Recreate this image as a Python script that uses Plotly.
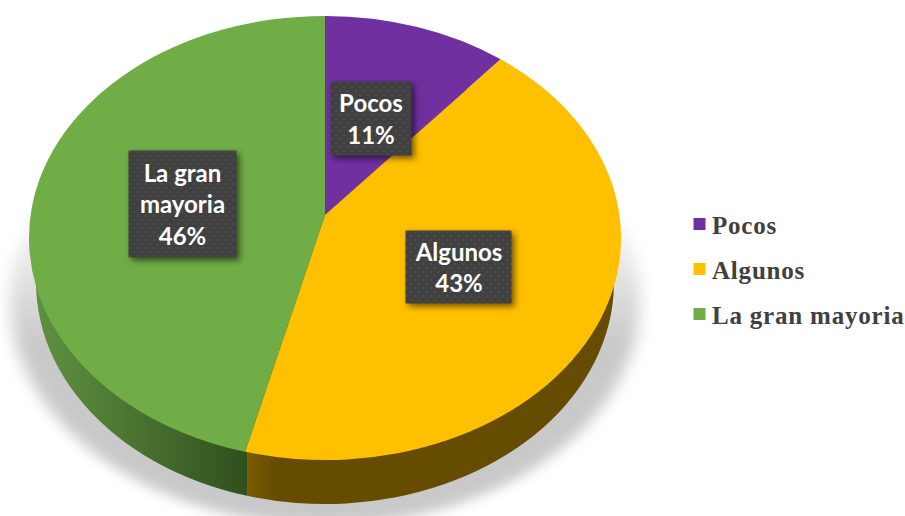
import plotly.graph_objects as go

categories = ["Pocos", "Algunos", "La gran mayoria"]
values = [11, 43, 46]
top_colors = ["#7030a0", "#ffc000", "#70ad47"]
side_colors = ["#3c1a56", "#664c00", "#3c5e26"]
box_labels = ["Pocos<br>11%", "Algunos<br>43%", "La gran<br>mayoria<br>46%"]
box_center_x = [371, 458, 182]
box_center_y = [118.5, 267, 204]
box_width = [80, 105, 107]
box_height = [73, 72, 106]

W, H = 905, 516


def domain(cx, cy, r):
    return dict(x=[(cx - r) / W, (cx + r) / W], y=[(H - cy - r) / H, (H - cy + r) / H])


fig = go.Figure()
fig.add_trace(go.Pie(values=[100], labels=["sombra"], sort=False, textinfo="none", hoverinfo="skip",
                     showlegend=False, marker=dict(colors=["#c9c9c9"], line=dict(width=0)),
                     domain=domain(325, 300, 200)))
fig.add_trace(go.Pie(values=values, labels=categories, sort=False, direction="clockwise", rotation=0,
                     textinfo="none", hoverinfo="skip", showlegend=False,
                     marker=dict(colors=side_colors, line=dict(width=0)),
                     domain=domain(325, 282, 222)))
fig.add_trace(go.Pie(values=values, labels=categories, sort=False, direction="clockwise", rotation=0,
                     textinfo="none", showlegend=True,
                     marker=dict(colors=top_colors, line=dict(width=0)),
                     domain=domain(325, 238, 222)))

for text, x, y, w, h in zip(box_labels, box_center_x, box_center_y, box_width, box_height):
    fig.add_annotation(text=text, xref="paper", yref="paper", x=x / W, y=1 - y / H,
                       xanchor="center", yanchor="middle", showarrow=False, width=w, height=h,
                       bgcolor="#404040", borderpad=0, align="center", valign="middle",
                       font=dict(family="Lato", size=24, color="#ffffff", weight="bold"))

fig.update_layout(
    width=W, height=H, margin=dict(l=0, r=0, t=0, b=0), paper_bgcolor="#ffffff",
    showlegend=True,
    legend=dict(x=672 / W, xanchor="left", y=1 - 205 / H, yanchor="top", bgcolor="rgba(0,0,0,0)",
                font=dict(family="Liberation Serif", size=25, color="#404040", weight="bold")),
)

post = """
document.body.style.margin = '0';
var gd = document.querySelector('.plotly-graph-div');
function fix() {
  var svg = gd.querySelector('.main-svg');
  var ns = 'http://www.w3.org/2000/svg';
  var defs = svg.querySelector('defs');
  if (!defs.querySelector('#gGreen')) {
    var mk = function(id, vertical, stops) {
      var g = document.createElementNS(ns, 'linearGradient');
      g.setAttribute('id', id);
      g.setAttribute('x1', 0); g.setAttribute('y1', 0);
      g.setAttribute('x2', vertical ? 0 : 1); g.setAttribute('y2', vertical ? 1 : 0);
      stops.forEach(function(s) {
        var st = document.createElementNS(ns, 'stop');
        st.setAttribute('offset', s[0]); st.setAttribute('stop-color', s[1]);
        g.appendChild(st);
      });
      defs.appendChild(g);
    };
    mk('gGreen', false, [[0, '#5f9140'], [0.35, '#4a7230'], [0.72, '#30501e'], [1, '#30501e']]);
    mk('gGold', false, [[0, '#7a5c00'], [0.08, '#664c00'], [1, '#664c00']]);
    mk('gShadow', true, [[0, '#ffffff'], [0.28, '#ffffff'], [0.6, '#c9c9c9'], [1, '#c9c9c9']]);
    var pat = document.createElementNS(ns, 'pattern');
    pat.setAttribute('id', 'dots');
    pat.setAttribute('width', 8); pat.setAttribute('height', 8);
    pat.setAttribute('patternUnits', 'userSpaceOnUse');
    pat.innerHTML = '<rect width="8" height="8" fill="#404040"></rect>' +
      '<circle cx="2" cy="2" r="1" fill="#505050"></circle>' +
      '<circle cx="6" cy="6" r="1" fill="#505050"></circle>';
    defs.appendChild(pat);
  }
  var traces = gd.querySelectorAll('.pielayer .trace');
  var cx = 325;
  var scale = [[315 / 200, 225 / 200, 300], [289 / 222, 1, 282], [296 / 222, 1, 238]];
  var RAD = Math.PI / 180;
  // perspective view of the tilted disc: rim angles shift slightly, apex sits above the rim centre
  var warp = function(a) { return a - 5 * Math.sin(a * RAD); };
  traces.forEach(function(t, i) {
    var s = scale[i];
    t.setAttribute('transform', 'translate(' + cx + ',' + s[2] + ') scale(' + s[0] + ',' + s[1] +
                   ') translate(' + (-cx) + ',' + (-s[2]) + ')');
    var paths = t.querySelectorAll('path.surface');
    if (i === 0) {
      paths[0].style.fill = 'url(#gShadow)';
      paths[0].style.filter = 'blur(5px)';
    }
    if (i === 1) {
      paths[1].style.fill = 'url(#gGold)';
      paths[2].style.fill = 'url(#gGreen)';
    }
    if (i >= 1) {
      var vals = Array.from(gd.data[i].values);
      var total = vals.reduce(function(a, b) { return a + b; }, 0);
      var frontAngle = warp((vals[0] + vals[1]) / total * 360);
      var cum = 0;
      paths.forEach(function(p, k) {
        var m = p.getAttribute('d').match(/^M([^,]+),([^l]+)l([^,]+),([^a]+)(a.*)$/);
        var a0 = warp(cum / total * 360);
        cum += vals[k];
        var a1 = warp(cum / total * 360);
        if (m) {
          var x0 = +m[1], y0 = +m[2], r = Math.hypot(+m[3], +m[4]);
          var pt = function(a) {
            return (x0 + r * Math.sin(a * RAD)) + ',' + (y0 - r * Math.cos(a * RAD));
          };
          // top face: apex lifted; side wall: apex straight above the front seam, so the seam is vertical
          var apex = i === 2 ? x0 + ',' + (y0 - 23)
                             : (x0 + r * Math.sin(frontAngle * RAD)) + ',' + (y0 - 100);
          p.setAttribute('d', 'M' + apex + 'L' + pt(a0) +
            'A' + r + ',' + r + ' 0 ' + (a1 - a0 > 180 ? 1 : 0) + ' 1 ' + pt(a1) + 'Z');
        }
      });
    }
  });
  gd.querySelectorAll('.annotation-text-g rect.bg').forEach(function(r) {
    r.style.fill = 'url(#dots)';
    r.style.filter = 'drop-shadow(3px 3px 3px rgba(0,0,0,0.55))';
  });
  var sb = gd.querySelector('.legend .scrollbox');
  if (sb) sb.removeAttribute('clip-path');
  var lg = gd.querySelector('.legend');
  if (lg) lg.removeAttribute('clip-path');
  gd.querySelectorAll('.legend .traces').forEach(function(t, i) {
    t.setAttribute('transform', 'translate(0,' + (19 + 45 * i) + ')');
    var lp = t.querySelector('.legendpoints');
    if (lp) lp.setAttribute('transform', 'translate(7.5,0)');
    var tx = t.querySelector('text.legendtext');
    if (tx) tx.style.letterSpacing = '0.8px';
  });
}
fix();
"""

fig.write_html("out.html", post_script=post, config=dict(displayModeBar=False))
